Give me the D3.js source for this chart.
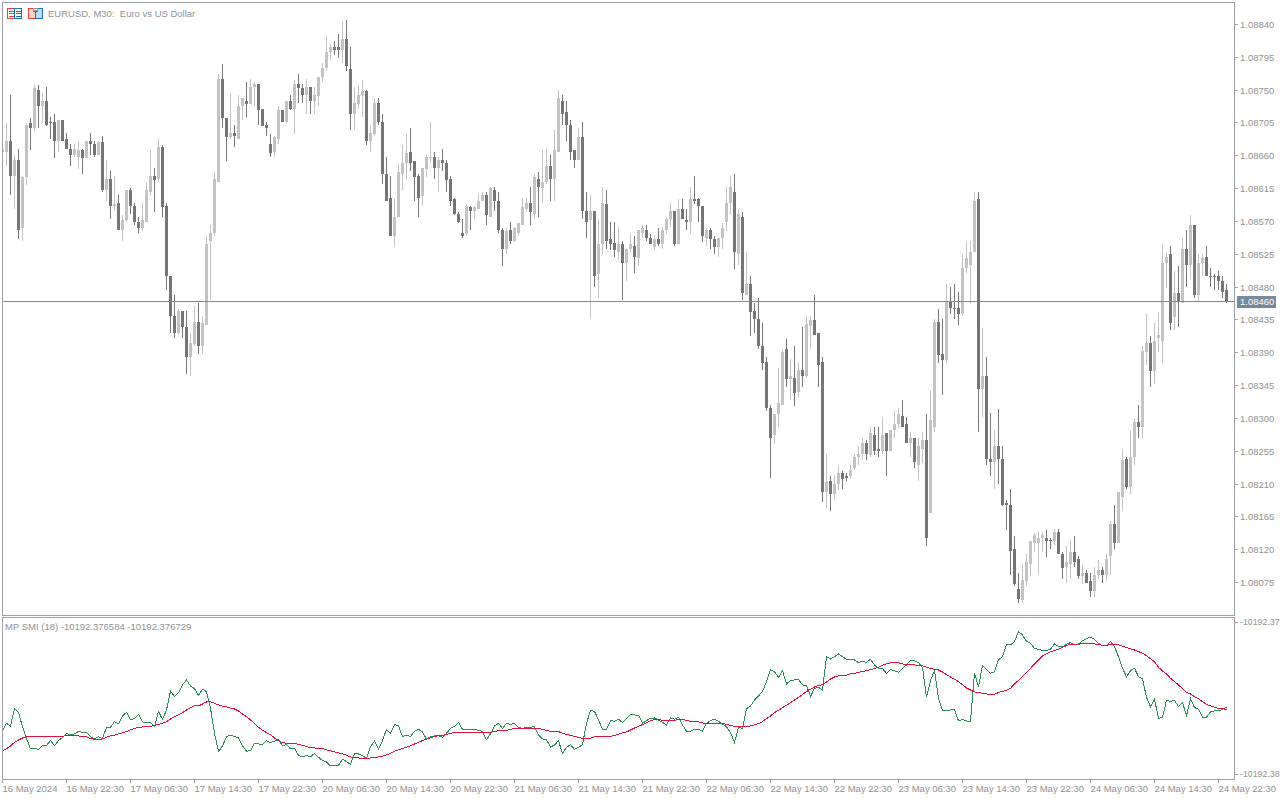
<!DOCTYPE html>
<html><head><meta charset="utf-8">
<script src="https://cdn.jsdelivr.net/npm/d3@7/dist/d3.min.js"></script>
<style>
html,body{margin:0;padding:0;background:#fff;overflow:hidden}
svg{display:block}
text{font-family:"Liberation Sans",Arial,sans-serif;font-size:9.5px;fill:#929292;white-space:pre}
</style></head><body><div id="chart"></div>
<script>
// Prices are stored as points above 1.08000 (1 point = 0.00001)
const priceBase = 1.08, pointSize = 1e-5;
const opens = [
664,665,680,631,654,560,630,704,697,750,
728,735,706,706,679,708,682,669,660,658,
667,656,679,676,661,678,612,628,590,595,
557,571,613,591,569,561,569,609,632,627,
671,591,494,439,416,446,425,383,401,432,
398,428,542,553,623,764,711,685,691,683,
727,735,731,753,758,724,701,676,664,682,
722,705,735,723,758,752,742,754,734,741,
767,779,801,808,808,804,820,778,716,730,
742,748,679,689,732,706,635,601,549,575,
634,650,664,652,632,604,641,656,658,642,
654,650,628,600,580,554,552,589,583,586,
597,606,576,613,598,558,531,557,543,554,
565,587,595,579,628,615,623,645,628,665,
735,719,702,667,653,685,584,571,583,497,
538,593,545,540,528,539,512,531,535,519,
554,558,547,534,545,538,557,572,583,538,
586,571,568,600,600,591,547,558,545,534,
546,568,595,610,524,576,468,483,446,436,
399,376,314,276,305,317,394,353,354,335,
366,358,426,434,417,376,198,214,196,209,
224,220,220,231,246,250,265,249,277,257,
255,279,254,284,291,303,291,265,273,235,
258,270,169,287,432,387,379,460,451,451,
442,506,509,527,600,339,358,244,239,262,
244,183,181,120,65,50,77,100,129,129,
136,136,133,131,143,114,95,100,116,106,
83,88,77,62,84,91,85,110,154,128,
192,243,205,246,295,287,390,402,364,409,
405,512,524,438,471,458,532,510,564,469,
512,521,495,495,495,488,475];
const highs = [
668,704,743,661,669,631,704,711,758,756,
745,754,713,717,709,709,690,675,675,679,
669,680,691,679,679,687,653,638,631,606,
578,613,615,595,575,594,624,667,643,683,
674,595,495,469,449,446,446,417,454,457,
439,549,565,637,771,785,711,745,702,743,
738,761,765,761,758,724,706,689,687,728,
722,735,743,763,772,758,765,754,753,768,
787,823,813,817,826,844,845,809,754,756,
763,750,702,737,738,717,658,632,602,648,
674,689,698,652,635,643,661,706,665,658,
668,653,632,602,582,573,593,591,591,608,
609,609,617,617,609,560,560,569,562,567,
601,602,616,635,637,667,669,661,694,749,
742,734,708,667,698,706,610,606,583,573,
617,613,569,569,562,543,532,554,549,558,
564,565,552,550,560,562,576,595,583,600,
600,587,616,632,602,591,561,561,549,546,
567,617,632,635,587,582,528,495,458,464,
430,384,317,305,369,395,408,381,399,376,
425,440,440,469,417,383,251,221,222,235,
227,225,235,251,261,272,270,287,288,287,
301,279,284,309,313,324,301,281,273,273,
281,305,338,436,449,436,483,480,484,473,
525,543,543,610,610,423,383,307,283,312,
262,188,202,138,88,99,114,131,142,143,
143,146,135,148,148,116,124,132,138,111,
98,92,87,95,105,96,113,158,180,198,
257,246,283,299,317,399,443,412,430,445,
538,527,535,502,508,547,558,578,565,524,
525,536,506,497,502,494,484];
const lows = [
660,646,606,587,545,543,619,667,693,698,
704,700,682,656,665,679,668,645,658,641,
635,656,661,658,661,609,598,573,584,557,
542,568,579,565,554,556,568,604,582,623,
575,476,416,409,414,409,360,357,399,388,
387,428,461,550,623,697,652,682,672,683,
709,712,730,727,702,700,686,657,658,675,
705,704,722,689,732,732,716,716,717,727,
760,775,791,797,794,787,775,694,694,723,
712,674,664,687,701,620,598,549,534,575,
613,626,638,598,575,590,630,650,628,610,
639,610,590,578,567,546,550,558,572,586,
597,564,575,583,554,508,524,539,541,549,
564,582,565,572,575,594,620,597,598,665,
702,679,654,643,653,573,546,435,480,464,
523,531,530,521,516,461,488,527,499,508,
547,543,538,530,536,532,552,562,536,538,
572,558,552,593,568,541,536,531,525,520,
532,556,580,504,509,462,468,412,416,394,
366,309,218,264,287,317,343,325,316,329,
343,355,394,414,342,185,176,172,187,201,
202,214,216,229,235,242,242,246,249,246,
250,220,254,272,286,287,265,247,231,214,
238,124,169,281,375,332,375,443,435,428,
440,498,456,527,281,301,235,221,203,210,
179,146,85,70,46,46,70,83,116,84,
116,109,120,126,113,79,73,79,96,79,
72,74,55,54,79,74,76,84,120,128,
172,202,196,235,272,273,372,343,347,390,
375,478,420,421,425,457,480,490,464,460,
495,494,479,475,475,464,457];
const closes = [
668,680,631,654,558,630,702,697,752,728,
735,702,705,679,709,680,668,661,669,667,
656,679,675,661,678,612,628,590,593,557,
571,613,590,568,561,571,612,632,626,671,
589,494,439,416,446,425,383,402,431,398,
430,538,554,628,765,711,685,691,686,728,
738,731,754,758,722,700,697,663,685,722,
705,735,723,758,752,742,754,734,742,767,
780,801,808,805,804,820,782,717,732,743,
748,679,691,732,705,635,598,549,576,637,
650,663,649,630,602,642,658,658,642,654,
649,626,597,580,568,550,590,583,589,598,
606,578,615,598,557,531,556,543,560,567,
589,595,582,630,616,623,646,628,667,739,
716,701,665,653,685,583,569,583,494,539,
594,543,539,530,538,512,532,539,520,558,
560,546,539,545,538,558,572,583,538,586,
573,568,600,597,590,549,558,545,534,546,
560,595,616,528,579,471,483,445,435,398,
375,314,273,305,320,391,353,357,334,366,
358,429,434,414,372,198,212,195,210,224,
216,217,228,246,251,265,250,279,255,255,
277,254,284,292,305,288,265,273,240,261,
270,135,297,432,386,380,460,450,450,442,
506,519,527,597,339,358,244,239,262,244,
180,181,117,72,52,78,102,131,140,136,
140,131,131,143,114,94,102,116,103,83,
88,74,62,84,92,84,106,155,128,198,
242,205,247,295,287,392,402,364,406,414,
513,521,430,471,460,532,510,564,469,513,
519,494,494,494,487,472,460];
const currentPrice = 460;
const priceTicks = [840,795,750,705,660,615,570,525,480,435,390,345,300,255,210,165,120,75];

// SMI values are stored in millionths below -10192.37
const smiMain = [
8107,7624,7800,6659,6922,7844,8611,9313,9269,9335,
9072,9072,8765,9094,8765,8567,8282,8392,8326,8150,
8216,8238,8501,8633,8501,8633,7887,7887,7515,7646,
7142,6900,7405,7295,7032,7536,7580,7558,7844,6857,
7361,6747,5519,5870,5607,5080,4773,5168,5343,5782,
5387,5541,6637,8282,9488,9115,8501,8414,8501,8589,
9115,9466,9422,8940,8984,9006,8765,8896,8808,8677,
9115,9006,9313,9269,9729,9839,9751,9839,9598,9861,
10080,10168,10431,10409,10387,9993,10146,10322,9598,9642,
9751,9927,9159,8808,9335,8765,8019,8282,7712,7800,
8501,8414,8501,8150,8019,8194,8677,8501,
8458,8458,8545,8282,7953,7822,7558,8019,8019,8063,
8019,8085,8172,8699,8326,7800,7624,7975,7624,7712,
7624,7887,7975,7887,7887,7844,8392,8655,8721,9181,
9050,8765,9598,9203,9028,9335,9203,9028,7624,6791,
6835,7405,8019,8019,7449,7493,7361,7580,7317,7032,
7076,7098,7624,7449,7295,7273,7405,7558,7734,7273,
7361,7229,7734,8150,8150,8019,8019,8150,7624,7449,
7361,7493,7668,7844,8238,8874,7887,7975,6659,6484,
6089,5826,5519,4905,4093,4247,4598,4159,5036,4817,
4773,4729,5102,5124,5870,5322,5256,5431,3238,3392,
3238,3063,3238,3414,3414,3458,3633,
3545,3611,3414,3786,4028,4028,4335,4072,4181,4269,
4006,3786,3479,3501,3633,3940,5914,4817,4159,5979,
6813,6769,6747,6703,7471,7361,7471,7493,4335,5212,
3808,4072,4335,4247,3458,3238,2471,2471,2251,1593,
1813,2229,2361,2690,2778,2822,2822,2756,2405,2558,
2602,2427,2317,2471,2471,2186,2054,1966,2098,2361,
2536,2536,2251,2580,3238,4006,4554,4159,4006,4554,
4708,5914,6528,6045,7295,7251,6111,6177,6111,6528,
6265,7120,6001,6593,6703,7229,7229,6879,6813,6813,
6703,6584];
const smiSignal = [
9422,9291,9115,8874,8721,8589,8523,8479,8479,8523,
8523,8479,8479,8479,8479,8479,8414,8414,8414,8458,
8479,8523,8633,8677,8677,8655,8545,8458,8414,8326,
8260,8172,8063,7975,7887,7865,7844,7822,7778,7690,
7624,7515,7339,7186,7076,6922,6747,6593,6484,6484,
6352,6221,6221,6308,6418,6506,6550,6637,6681,6813,
7010,7186,7405,7624,7887,8085,8238,8370,8589,8765,
8896,8940,8940,8940,9028,9072,9159,9225,9247,9269,
9291,9379,9444,9510,9576,9642,9729,9839,9861,9905,
9949,9971,9905,9861,9839,9795,9708,9598,9466,9379,
9291,9203,9094,8984,8874,8765,8677,8589,
8501,8436,8414,8370,8282,8238,8216,8216,8216,8216,
8216,8216,8216,8238,8216,8172,8107,8085,8085,8019,
7953,7953,7953,7953,7953,7953,7975,8019,8085,8150,
8150,8172,8282,8348,8436,8479,8545,8611,8655,8611,
8523,8501,8501,8523,8479,8414,8348,8260,8194,8063,
7931,7822,7712,7580,7449,7383,7383,7427,7427,7427,
7427,7383,7361,7427,7493,7493,7536,7602,7624,7624,
7624,7624,7646,7690,7778,7822,7844,7844,7844,7800,
7734,7646,7515,7317,7142,6922,6769,6593,6440,6265,
6089,5914,5738,5541,5387,5234,5146,5080,4905,4708,
4576,4510,4488,4466,4379,
4335,4269,4225,4159,4093,4028,3940,3808,3721,3655,
3633,3655,3721,3743,3743,3786,3830,3852,3940,4006,
4072,4115,4247,4422,4576,4729,4883,5080,5300,5431,
5563,5607,5651,5694,5716,5716,5607,5519,5453,5322,
5036,4795,4532,4269,4006,3721,3458,3194,3041,2931,
2843,2756,2624,2515,2427,2427,2405,2405,2405,2405,
2405,2449,2493,2493,2449,2427,2449,2558,2646,2734,
2800,2909,3019,3172,3370,3589,3940,4181,4379,4664,
4883,5102,5343,5585,5694,5870,6001,6199,6374,6484,
6572,6637,6637,6729];
const smiTicks = [960,10960];
const smiTickLabels = ["-10192.37","-10192.38"];

const timeLabels = ["16 May 2024","16 May 22:30","17 May 06:30","17 May 14:30","17 May 22:30","20 May 06:30","20 May 14:30","20 May 22:30","21 May 06:30","21 May 14:30","21 May 22:30","22 May 06:30","22 May 14:30","22 May 22:30","23 May 06:30","23 May 14:30","23 May 22:30","24 May 06:30","24 May 14:30","24 May 22:30"];
const barsPerLabel = 16;

const titleText = "EURUSD, M30:  Euro vs US Dollar";
const paneText = "MP SMI (18) -10192.376584 -10192.376729";

const W=1280,H=800;
const frame="#a0a0a8", bull="#c3c3c3", bear="#757575", priceLine="#7b8793";
const svg=d3.select("#chart").append("svg").attr("width",W).attr("height",H);

const bars=d3.range(opens.length);
const x=d3.scaleLinear().domain([0,opens.length-1]).range([2,1226]);
const y=d3.scaleLinear().domain([75,840]).rangeRound([582,24]);
const ySmi=d3.scaleLinear().domain(smiTicks).range([622,774]);

svg.append("defs").append("clipPath").attr("id","mainClip").append("rect").attr("x",3).attr("y",3).attr("width",1232).attr("height",612);
svg.select("defs").append("clipPath").attr("id","subClip").append("rect").attr("x",3).attr("y",618).attr("width",1232).attr("height",161);

// candles
const gc=svg.append("g").attr("clip-path","url(#mainClip)").attr("shape-rendering","crispEdges");
const colour=i=>closes[i]>=opens[i]?bull:bear;
gc.selectAll("rect.w").data(bars).join("rect").attr("class","w")
  .attr("x",i=>x(i)).attr("width",1)
  .attr("y",i=>y(highs[i])).attr("height",i=>Math.max(1,y(lows[i])-y(highs[i])))
  .attr("fill",colour);
gc.selectAll("rect.b").data(bars).join("rect").attr("class","b")
  .attr("x",i=>x(i)-1).attr("width",3)
  .attr("y",i=>y(Math.max(opens[i],closes[i])))
  .attr("height",i=>Math.max(1,y(Math.min(opens[i],closes[i]))-y(Math.max(opens[i],closes[i]))))
  .attr("fill",colour);

// current price line
svg.append("line").attr("x1",3).attr("x2",1235).attr("y1",y(currentPrice)+0.5).attr("y2",y(currentPrice)+0.5).attr("stroke",priceLine);

// SMI lines
const gs=svg.append("g").attr("clip-path","url(#subClip)").attr("fill","none").attr("shape-rendering","crispEdges");
const line=d3.line().x((d,i)=>x(i)+0.5).y(d=>ySmi(d));
gs.append("path").datum(smiMain).attr("d",line).attr("stroke","#2e8b57").attr("stroke-width",1);
gs.append("path").datum(smiSignal).attr("d",line).attr("stroke","#dc143c").attr("stroke-width",1);

// frames
const fr=svg.append("g").attr("fill","none").attr("stroke",frame).attr("shape-rendering","crispEdges");
fr.append("rect").attr("x",2.5).attr("y",2.5).attr("width",1232).attr("height",613);
fr.append("rect").attr("x",2.5).attr("y",617.5).attr("width",1232).attr("height",162);

// price axis
const axP=svg.append("g").attr("transform","translate(1235,0)")
 .call(d3.axisRight(y).tickValues(priceTicks).tickSize(3).tickPadding(2)
   .tickFormat(p=>(priceBase+p*pointSize).toFixed(5)));
axP.select(".domain").remove();
axP.selectAll("line").attr("stroke",frame);

// current price tag
svg.append("rect").attr("x",1237).attr("y",y(currentPrice)-5).attr("width",39).attr("height",12).attr("fill","#778899");
svg.append("text").attr("x",1240).attr("y",y(currentPrice)+4).style("fill","#fff").text((priceBase+currentPrice*pointSize).toFixed(5));

// SMI axis
const axS=svg.append("g").attr("transform","translate(1235,0)")
 .call(d3.axisRight(ySmi).tickValues(smiTicks).tickSize(3).tickPadding(2)
   .tickFormat((d,i)=>smiTickLabels[i]));
axS.select(".domain").remove();
axS.selectAll("line").attr("stroke",frame);
axS.selectAll("text").style("font-size","8.8px");

// time axis
const tickBars=timeLabels.map((_,i)=>i*barsPerLabel);
const axT=svg.append("g").attr("transform","translate(0,779)")
 .call(d3.axisBottom(x).tickValues(tickBars).tickSize(4).tickPadding(2)
   .tickFormat((d,i)=>timeLabels[i]));
axT.select(".domain").remove();
axT.selectAll("line").attr("stroke",frame);
axT.selectAll("text").attr("text-anchor","start").attr("x",0);

// titles
svg.append("text").attr("x",48).attr("y",17).text(titleText);
svg.append("text").attr("x",5).attr("y",630).text(paneText);

// toolbar icons
const ic=svg.append("g").attr("shape-rendering","crispEdges");
ic.append("rect").attr("x",7.5).attr("y",8.5).attr("width",7).attr("height",10).attr("fill","#fff").attr("stroke","#e8403a");
ic.append("rect").attr("x",14.5).attr("y",8.5).attr("width",7).attr("height",10).attr("fill","#fff").attr("stroke","#1f6fb5");
[11,13.5,16].forEach(v=>{
  ic.append("line").attr("x1",9).attr("x2",14).attr("y1",v).attr("y2",v).attr("stroke","#e8403a");
  ic.append("line").attr("x1",16).attr("x2",21).attr("y1",v).attr("y2",v).attr("stroke","#1f6fb5");
});
ic.append("path").attr("d","M28.5 8.5H33.5V11.5H35.5V18.5H28.5Z").attr("fill","#fbd5cf").attr("stroke","#e8403a");
ic.append("path").attr("d","M35.5 18.5V11.5H37.5V8.5H42.5V18.5Z").attr("fill","#b9dff7").attr("stroke","#1f6fb5");
ic.append("rect").attr("x",33.5).attr("y",8.5).attr("width",4).attr("height",2).attr("fill","#fff").attr("stroke","#999");
</script></body></html>
